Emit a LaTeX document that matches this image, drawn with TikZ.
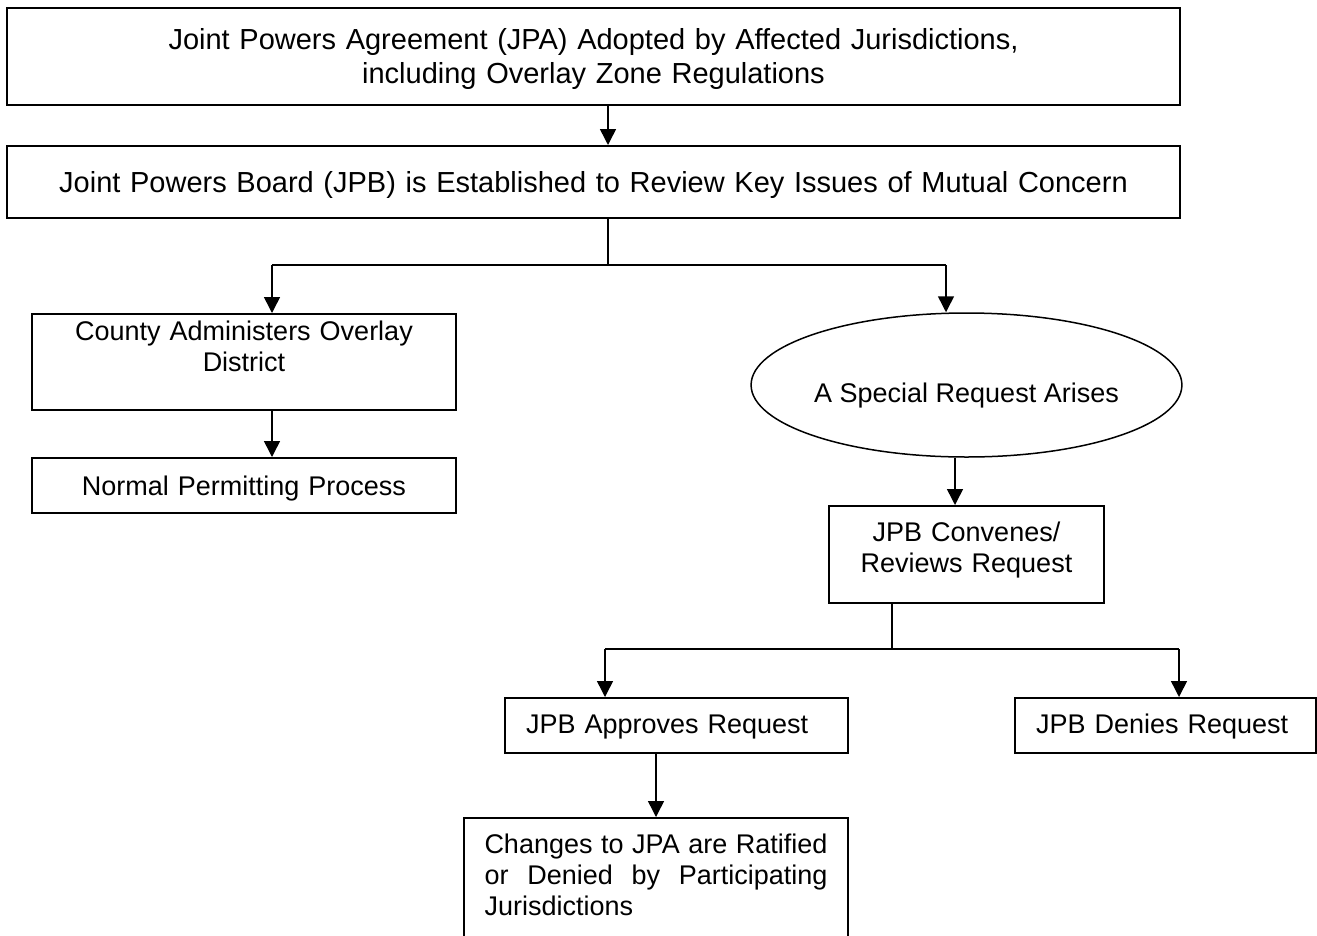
\documentclass[tikz,border=0pt]{standalone}
\usepackage{fontspec}
\setmainfont{Liberation Sans}
\usetikzlibrary{arrows.meta,shapes.geometric}
\tolerance=10000
\hyphenpenalty=10000
\newcommand{\bigtxt}{\fontsize{29}{34}\selectfont}
\newcommand{\smalltxt}{\fontsize{27}{31}\selectfont}

\begin{document}
\begin{tikzpicture}[x=1pt,y=-1pt,
  box/.style={draw,line width=1.5pt,inner sep=0pt,anchor=north,align=center,font=\smalltxt},
  arr/.style={line width=1.5pt,-{Triangle[length=16pt,width=16pt]}},
  wire/.style={line width=1.5pt}]
\clip (0,0) rectangle (1317,935);
% top boxes
\node[box,line width=2pt,font=\bigtxt,text width=1173pt,text height=41pt,text depth=56pt] (jpa) at (593.5,7)
  {Joint Powers Agreement (JPA) Adopted by Affected Jurisdictions,\\including Overlay Zone Regulations};
\node[box,font=\bigtxt,text width=1173pt,text height=47pt,text depth=25pt] (jpb) at (593.5,145)
  {Joint Powers Board (JPB) is Established to Review Key Issues of Mutual Concern};
% left side
\node[box,text width=424pt,text height=27pt,text depth=69pt] (county) at (244,313)
  {County Administers Overlay\\District};
\node[box,text width=424pt,text height=38pt,text depth=17pt] (normal) at (244,457)
  {Normal Permitting Process};
% right side
\node[draw,ellipse,line width=1.5pt,inner sep=0pt,minimum width=425pt,minimum height=144pt,
  font=\smalltxt,text height=40pt,text depth=6pt] (special) at (966.5,385) {A Special Request Arises};
\node[box,text width=275pt,text height=36pt,text depth=61pt] (convene) at (966.5,505)
  {JPB Convenes/\\Reviews Request};
\node[box,align=left,inner xsep=21pt,text width=301pt,text height=36pt,text depth=19pt] (approve) at (676.5,697)
  {JPB Approves Request};
\node[box,align=left,inner xsep=21pt,text width=259pt,text height=36pt,text depth=19pt] (deny) at (1165.5,697)
  {JPB Denies Request};
\node[box,align=justify,inner xsep=20.5pt,text width=343pt,text height=36pt,text depth=150pt] (ratify) at (656,817)
  {Changes to JPA are Ratified or Denied by Participating Jurisdictions};

% connectors
\coordinate (t1) at (608,265);
\coordinate (bl) at (272,265);
\coordinate (br) at (946,265);
\coordinate (s1) at (955,0);
\coordinate (t2) at (892,649);
\coordinate (b2l) at (605,649);
\coordinate (b2r) at (1179,649);
\coordinate (a1) at (656,0);
\draw[arr] (jpa.south -| t1) -- (jpb.north -| t1);
\draw[wire] (jpb.south -| t1) -- (t1);
\draw[wire] (bl) -- (br);
\draw[arr] (bl) -- (county.north -| bl);
\draw[arr] (br) -- (special.north -| br);
\draw[arr] (county.south -| bl) -- (normal.north -| bl);
\draw[arr] (special.south -| s1) -- (convene.north -| s1);
\draw[wire] (convene.south -| t2) -- (t2);
\draw[wire] (b2l) -- (b2r);
\draw[arr] (b2l) -- (approve.north -| b2l);
\draw[arr] (b2r) -- (deny.north -| b2r);
\draw[arr] (approve.south -| a1) -- (ratify.north -| a1);
\end{tikzpicture}
\end{document}
